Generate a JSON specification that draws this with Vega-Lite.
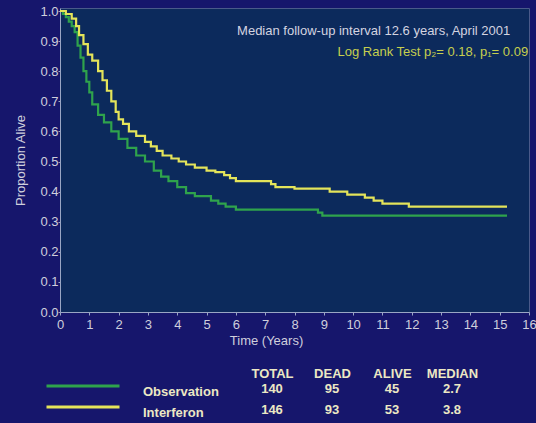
{
  "$schema": "https://vega.github.io/schema/vega-lite/v6.json",
  "background": "#16166c",
  "padding": {"left": 14, "top": 4, "right": 0, "bottom": 5},
  "autosize": {"type": "pad"},
  "bounds": "flush",
  "spacing": 77,
  "config": {
    "font": "Liberation Sans",
    "axis": {"labelFont": "Liberation Sans", "titleFont": "Liberation Sans", "grid": false},
    "axisQuantitative": {"tickCount": 20, "labelOverlap": false}
  },
  "datasets": {
    "survival": [
      {"group": "Observation", "t": 0, "p": 1.0},
      {"group": "Observation", "t": 0.1, "p": 0.99},
      {"group": "Observation", "t": 0.2, "p": 0.98},
      {"group": "Observation", "t": 0.3, "p": 0.965},
      {"group": "Observation", "t": 0.4, "p": 0.95},
      {"group": "Observation", "t": 0.5, "p": 0.93},
      {"group": "Observation", "t": 0.6, "p": 0.885},
      {"group": "Observation", "t": 0.7, "p": 0.845},
      {"group": "Observation", "t": 0.8, "p": 0.80},
      {"group": "Observation", "t": 0.9, "p": 0.765},
      {"group": "Observation", "t": 1.0, "p": 0.73},
      {"group": "Observation", "t": 1.1, "p": 0.69},
      {"group": "Observation", "t": 1.3, "p": 0.655},
      {"group": "Observation", "t": 1.5, "p": 0.63},
      {"group": "Observation", "t": 1.75, "p": 0.60},
      {"group": "Observation", "t": 2.0, "p": 0.575},
      {"group": "Observation", "t": 2.3, "p": 0.545},
      {"group": "Observation", "t": 2.6, "p": 0.52},
      {"group": "Observation", "t": 2.9, "p": 0.50},
      {"group": "Observation", "t": 3.2, "p": 0.47},
      {"group": "Observation", "t": 3.45, "p": 0.45},
      {"group": "Observation", "t": 3.7, "p": 0.435},
      {"group": "Observation", "t": 4.0, "p": 0.415},
      {"group": "Observation", "t": 4.3, "p": 0.395},
      {"group": "Observation", "t": 4.6, "p": 0.385},
      {"group": "Observation", "t": 5.15, "p": 0.37},
      {"group": "Observation", "t": 5.4, "p": 0.36},
      {"group": "Observation", "t": 5.65, "p": 0.35},
      {"group": "Observation", "t": 6.0, "p": 0.34},
      {"group": "Observation", "t": 8.8, "p": 0.33},
      {"group": "Observation", "t": 8.95, "p": 0.32},
      {"group": "Observation", "t": 15.25, "p": 0.32},
      {"group": "Interferon", "t": 0, "p": 1.0},
      {"group": "Interferon", "t": 0.2, "p": 0.99},
      {"group": "Interferon", "t": 0.4, "p": 0.975},
      {"group": "Interferon", "t": 0.55, "p": 0.95},
      {"group": "Interferon", "t": 0.65, "p": 0.92},
      {"group": "Interferon", "t": 0.8, "p": 0.89},
      {"group": "Interferon", "t": 0.95, "p": 0.855},
      {"group": "Interferon", "t": 1.1, "p": 0.835},
      {"group": "Interferon", "t": 1.3, "p": 0.80},
      {"group": "Interferon", "t": 1.45, "p": 0.77},
      {"group": "Interferon", "t": 1.6, "p": 0.735},
      {"group": "Interferon", "t": 1.75, "p": 0.70},
      {"group": "Interferon", "t": 1.9, "p": 0.665},
      {"group": "Interferon", "t": 2.0, "p": 0.64},
      {"group": "Interferon", "t": 2.15, "p": 0.625},
      {"group": "Interferon", "t": 2.35, "p": 0.60},
      {"group": "Interferon", "t": 2.6, "p": 0.585},
      {"group": "Interferon", "t": 2.9, "p": 0.565},
      {"group": "Interferon", "t": 3.1, "p": 0.55},
      {"group": "Interferon", "t": 3.3, "p": 0.535},
      {"group": "Interferon", "t": 3.5, "p": 0.52},
      {"group": "Interferon", "t": 3.8, "p": 0.51},
      {"group": "Interferon", "t": 4.05, "p": 0.50},
      {"group": "Interferon", "t": 4.3, "p": 0.49},
      {"group": "Interferon", "t": 4.6, "p": 0.48},
      {"group": "Interferon", "t": 5.0, "p": 0.47},
      {"group": "Interferon", "t": 5.3, "p": 0.465},
      {"group": "Interferon", "t": 5.6, "p": 0.455},
      {"group": "Interferon", "t": 5.8, "p": 0.445},
      {"group": "Interferon", "t": 6.0, "p": 0.435},
      {"group": "Interferon", "t": 7.2, "p": 0.425},
      {"group": "Interferon", "t": 7.35, "p": 0.415},
      {"group": "Interferon", "t": 8.0, "p": 0.41},
      {"group": "Interferon", "t": 9.2, "p": 0.40},
      {"group": "Interferon", "t": 9.8, "p": 0.39},
      {"group": "Interferon", "t": 10.4, "p": 0.38},
      {"group": "Interferon", "t": 10.7, "p": 0.37},
      {"group": "Interferon", "t": 11.0, "p": 0.36},
      {"group": "Interferon", "t": 11.9, "p": 0.35},
      {"group": "Interferon", "t": 15.25, "p": 0.35}
    ],
    "summary": [
      {"group": "Observation", "TOTAL": 140, "DEAD": 95, "ALIVE": 45, "MEDIAN": 2.7},
      {"group": "Interferon", "TOTAL": 146, "DEAD": 93, "ALIVE": 53, "MEDIAN": 3.8}
    ],
    "notes": [
      {"label": "Median follow-up interval 12.6 years, April 2001", "kind": "follow"},
      {"label": "Log Rank Test p₂= 0.18, p₁= 0.09", "kind": "logrank"}
    ]
  },
  "vconcat": [
    {
      "width": 469,
      "height": 304,
      "view": {"fill": "#0c2a5c", "stroke": "#4a5a8a", "strokeWidth": 1},
      "layer": [
        {
          "data": {"name": "survival"},
          "mark": {"type": "line", "interpolate": "step-after", "strokeWidth": 2.2},
          "encoding": {
            "x": {
              "field": "t", "type": "quantitative",
              "scale": {"domain": [0, 16], "nice": false, "zero": false},
              "axis": {
                "values": [0,1,2,3,4,5,6,7,8,9,10,11,12,13,14,15,16],
                "tickCount": 20, "labelOverlap": false,
                "title": "Time (Years)",
                "titleX": 206,
                "titleFontSize": 13, "titleFontWeight": "normal", "titleColor": "#cfcfdc",
                "titlePadding": 3,
                "labelFontSize": 13, "labelColor": "#cfcfdc", "labelDx": -3,
                "labelPadding": 3, "labelFlush": false,
                "domainColor": "#9aa6c4", "tickColor": "#9aa6c4", "tickSize": 3
              }
            },
            "y": {
              "field": "p", "type": "quantitative",
              "scale": {"domain": [0, 1.01], "nice": false},
              "axis": {
                "values": [0,0.1,0.2,0.3,0.4,0.5,0.6,0.7,0.8,0.9,1.0],
                "tickCount": 20, "labelOverlap": false,
                "format": ".1f",
                "title": "Proportion Alive",
                "titleFontSize": 13, "titleFontWeight": "normal", "titleColor": "#cfcfdc",
                "titlePadding": 12,
                "labelFontSize": 13, "labelColor": "#cfcfdc",
                "labelPadding": 0,
                "domainColor": "#9aa6c4", "tickColor": "#9aa6c4", "tickSize": 2
              }
            },
            "color": {
              "field": "group", "type": "nominal",
              "scale": {"domain": ["Observation", "Interferon"], "range": ["#2fa34c", "#e4e45a"]},
              "legend": {
                "orient": "none", "legendX": -15, "legendY": 373,
                "title": null, "direction": "vertical",
                "symbolType": "stroke", "symbolSize": 5329, "symbolStrokeWidth": 3,
                "symbolOffset": 0, "clipHeight": 10, "rowPadding": 3,
                "labelOffset": 22, "labelBaseline": "top",
                "labelFont": "Liberation Sans", "labelFontWeight": "bold",
                "labelFontSize": 13, "labelColor": "#ece8c4", "padding": 0
              }
            }
          }
        },
        {
          "data": {"name": "notes"},
          "transform": [{"filter": "datum.kind == 'follow'"}],
          "mark": {"type": "text", "align": "right", "baseline": "middle", "fontSize": 13, "color": "#d4d4e0", "font": "Liberation Sans"},
          "encoding": {
            "x": {"datum": 15.36, "type": "quantitative"},
            "y": {"datum": 0.934, "type": "quantitative"},
            "text": {"field": "label"}
          }
        },
        {
          "data": {"name": "notes"},
          "transform": [{"filter": "datum.kind == 'logrank'"}],
          "mark": {"type": "text", "align": "right", "baseline": "middle", "fontSize": 13, "color": "#c6cf4e", "font": "Liberation Sans"},
          "encoding": {
            "x": {"datum": 15.97, "type": "quantitative"},
            "y": {"datum": 0.864, "type": "quantitative"},
            "text": {"field": "label"}
          }
        }
      ]
    },
    {
      "width": 469,
      "height": 21,
      "view": {"stroke": null},
      "data": {"name": "summary"},
      "transform": [{"fold": ["TOTAL", "DEAD", "ALIVE", "MEDIAN"], "as": ["column", "value"]}],
      "mark": {"type": "text", "font": "Liberation Sans", "fontWeight": "bold", "fontSize": 13, "color": "#ece8c4", "baseline": "middle"},
      "encoding": {
        "x": {
          "field": "column", "type": "nominal",
          "scale": {"type": "point", "domain": ["TOTAL", "DEAD", "ALIVE", "MEDIAN"], "range": [212, 392], "padding": 0},
          "axis": {
            "orient": "top", "title": null, "domain": false, "ticks": false,
            "labelPadding": 9, "labelAngle": 0,
            "labelFont": "Liberation Sans", "labelFontWeight": "bold",
            "labelFontSize": 13, "labelColor": "#ece8c4"
          }
        },
        "y": {
          "field": "group", "type": "nominal",
          "scale": {"type": "point", "domain": ["Observation", "Interferon"], "padding": 0},
          "axis": null
        },
        "text": {"field": "value", "type": "quantitative"}
      }
    }
  ]
}
